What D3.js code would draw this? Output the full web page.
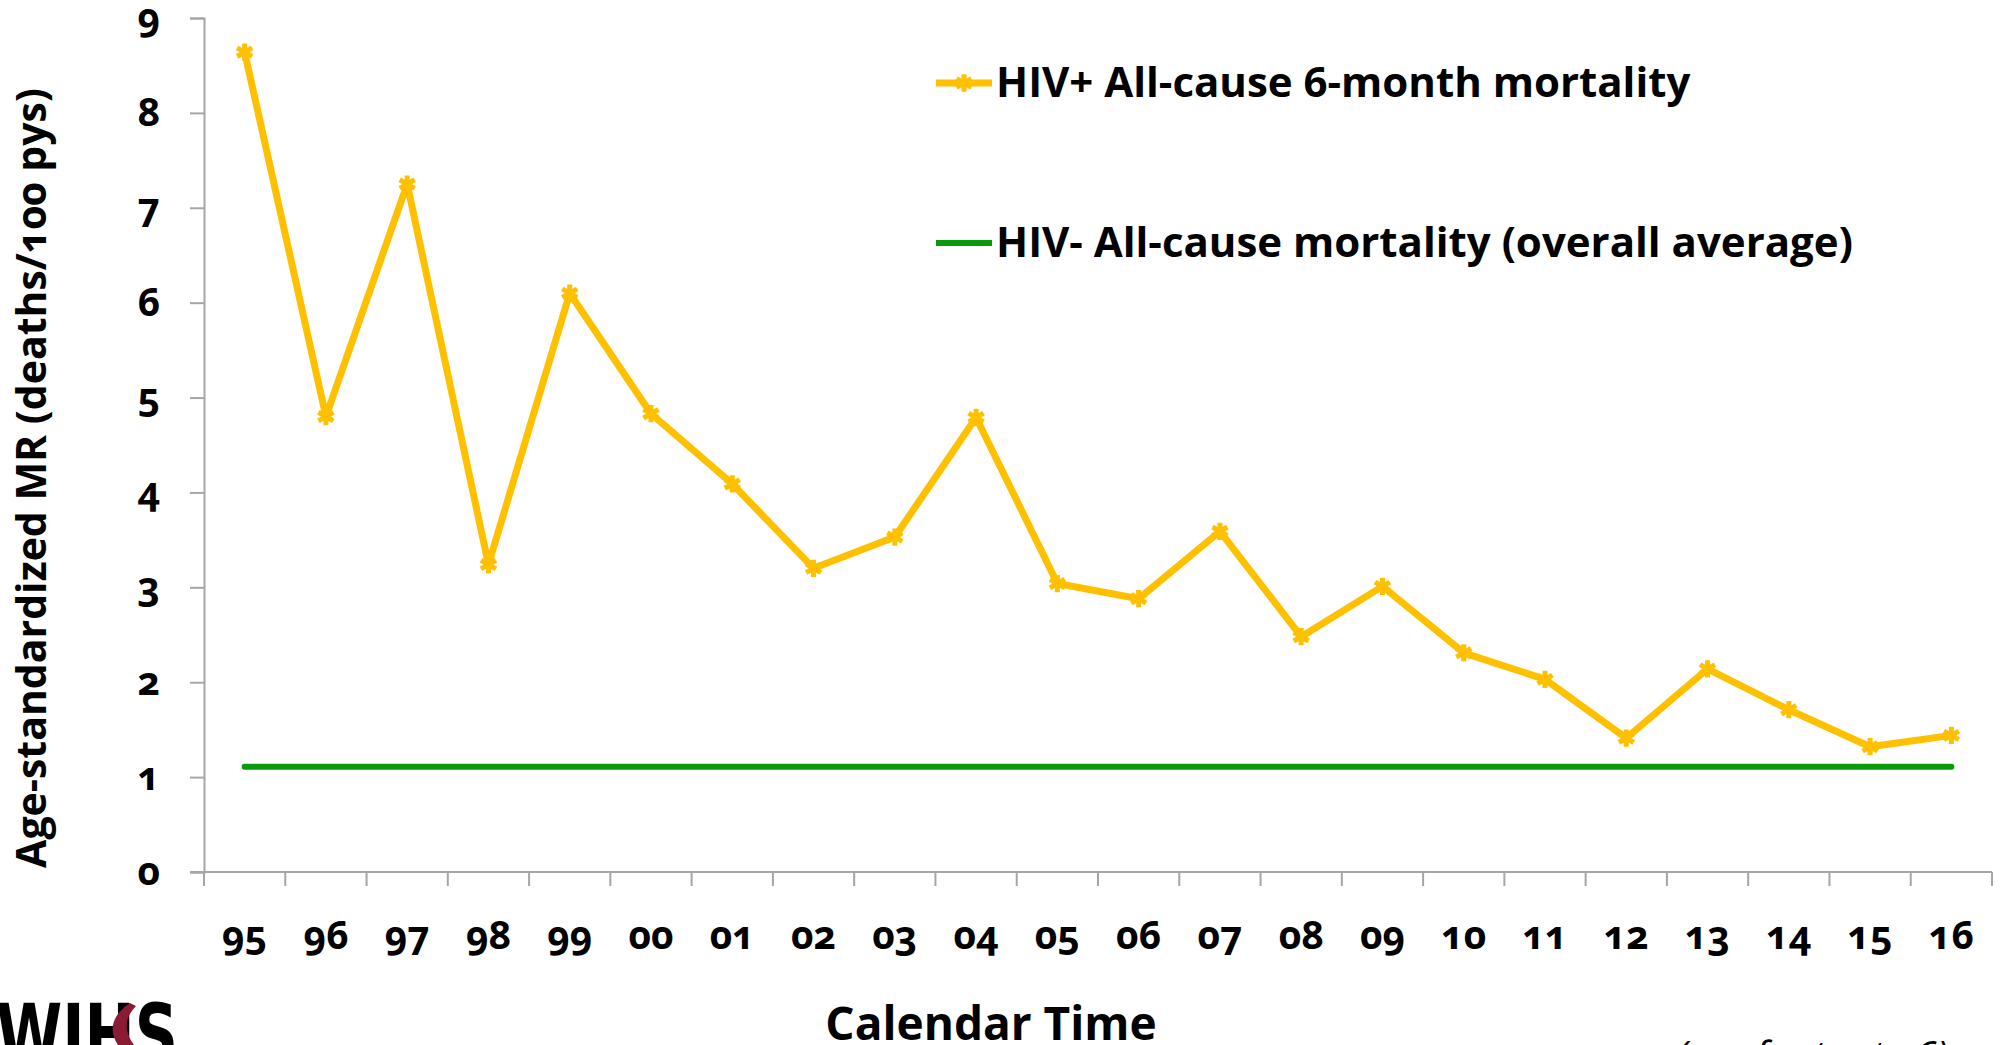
<!DOCTYPE html>
<html>
<head>
<meta charset="utf-8">
<script src="https://cdn.jsdelivr.net/npm/d3@7"></script>
<style>
  body { margin: 0; background: #fff; overflow: hidden; }
  text { font-family: "Open Sans", sans-serif; font-variant-numeric: oldstyle-nums; }
</style>
</head>
<body>
<script>
// chart data
const years = ['95', '96', '97', '98', '99', '00', '01', '02', '03', '04', '05',
    '06', '07', '08', '09', '10', '11', '12', '13', '14', '15', '16']
const hivPos = [8.64, 4.80, 7.25, 3.24, 6.10, 4.83, 4.09, 3.20, 3.53, 4.79, 3.04,
    2.88, 3.59, 2.48, 3.01, 2.31, 2.03, 1.41, 2.14, 1.71, 1.32, 1.44]
const hivNegAvg = 1.11
const yTicks = [0, 1, 2, 3, 4, 5, 6, 7, 8, 9]
const legendLabels = ['HIV+ All-cause 6-month mortality', 'HIV- All-cause mortality (overall average)']

const dimensions = {
    width: 2002,
    height: 1045
}
const plot = { left: 204, right: 1992, top: 18, bottom: 872 }

const svg = d3.select('body').append('svg')
    .attr('width', dimensions.width)
    .attr('height', dimensions.height)

const x = d3.scaleBand()
    .domain(years)
    .range([plot.left, plot.right])

const y = d3.scaleLinear()
    .domain([0, 9])
    .range([plot.bottom, plot.top])

const cx = d => x(d) + x.bandwidth() / 2

// y axis
const yAxis = svg.append('g')
    .attr('transform', `translate(${plot.left},0)`)
    .call(d3.axisLeft(y).tickValues(yTicks).tickFormat(d3.format('d')).tickSize(14).tickPadding(30))
yAxis.select('.domain').attr('stroke', '#a6a6a6').attr('stroke-width', 2)
yAxis.selectAll('.tick line').attr('stroke', '#a6a6a6').attr('stroke-width', 2)
yAxis.selectAll('.tick text')
    .attr('font-size', 39)
    .attr('font-weight', 700)
    .attr('fill', '#000')
    .style('font-family', '"Open Sans", sans-serif')

// x axis line, ticks between categories
const xAxis = svg.append('g')
xAxis.append('line')
    .attr('x1', plot.left - 14).attr('x2', plot.right)
    .attr('y1', plot.bottom).attr('y2', plot.bottom)
    .attr('stroke', '#a6a6a6').attr('stroke-width', 2)
xAxis.selectAll('.xtick')
    .data(years.map(d => x(d)).concat([x.range()[1]]))
    .enter()
    .append('line')
    .attr('x1', d => d).attr('x2', d => d)
    .attr('y1', plot.bottom).attr('y2', plot.bottom + 14)
    .attr('stroke', '#a6a6a6').attr('stroke-width', 2)
xAxis.selectAll('.xlabel')
    .data(years)
    .enter()
    .append('text')
    .attr('x', d => cx(d))
    .attr('y', 949)
    .attr('text-anchor', 'middle')
    .attr('font-size', 39)
    .attr('font-weight', 700)
    .text(d => d)

// axis titles
svg.append('text')
    .attr('transform', 'translate(46,478) rotate(-90)')
    .attr('text-anchor', 'middle')
    .attr('font-size', 41)
    .attr('font-weight', 700)
    .text('Age-standardized MR (deaths/100 pys)')

svg.append('text')
    .attr('x', 991)
    .attr('y', 1040)
    .attr('text-anchor', 'middle')
    .attr('font-size', 46)
    .attr('font-weight', 700)
    .style('font-variant-numeric', 'normal')
    .text('Calendar Time')

// HIV- average line
svg.append('line')
    .attr('x1', cx(years[0]))
    .attr('x2', cx(years[years.length - 1]))
    .attr('y1', y(hivNegAvg))
    .attr('y2', y(hivNegAvg))
    .attr('stroke', '#099a09')
    .attr('stroke-width', 6)
    .attr('stroke-linecap', 'round')

// HIV+ line
const line = d3.line()
    .x((d, i) => cx(years[i]))
    .y(d => y(d))

svg.append('path')
    .datum(hivPos)
    .attr('d', line)
    .attr('fill', 'none')
    .attr('stroke', '#ffc000')
    .attr('stroke-width', 7)
    .attr('stroke-linejoin', 'round')

const star = d3.symbol().type(d3.symbolAsterisk).size(210)
svg.selectAll('.marker')
    .data(hivPos)
    .enter()
    .append('path')
    .attr('d', star)
    .attr('transform', (d, i) => `translate(${cx(years[i])},${y(d)})`)
    .attr('fill', 'none')
    .attr('stroke', '#ffc000')
    .attr('stroke-width', 5)

// legend
const legend = svg.append('g')
legend.append('line')
    .attr('x1', 936).attr('x2', 992).attr('y1', 83).attr('y2', 83)
    .attr('stroke', '#ffc000').attr('stroke-width', 7)
legend.append('path')
    .attr('d', star)
    .attr('transform', 'translate(964,83)')
    .attr('fill', 'none').attr('stroke', '#ffc000').attr('stroke-width', 5)
legend.append('line')
    .attr('x1', 936).attr('x2', 992).attr('y1', 243).attr('y2', 243)
    .attr('stroke', '#099a09').attr('stroke-width', 6)
legend.selectAll('.ltext')
    .data(legendLabels)
    .enter()
    .append('text')
    .attr('x', 996)
    .attr('y', (d, i) => i === 0 ? 97 : 257)
    .attr('font-size', 42)
    .attr('font-weight', 700)
    .style('font-variant-numeric', 'normal')
    .text(d => d)

// logo, cut by the bottom edge
const logo = svg.append('g')
logo.append('text')
    .attr('x', -4)
    .attr('y', 1064)
    .attr('font-size', 84)
    .attr('font-weight', 900)
    .attr('textLength', 182)
    .attr('lengthAdjust', 'spacingAndGlyphs')
    .style('font-family', '"DejaVu Sans", sans-serif')
    .text('WIHS')
logo.append('path')
    .attr('d', 'M130,1003 C112,1015 108,1030 118,1045 L134,1045 C124,1032 124,1018 136,1006 Z')
    .attr('fill', '#8b1a33')

// footnote, also cut by the bottom edge
svg.append('text')
    .attr('x', 1676)
    .attr('y', 1070)
    .attr('font-size', 40)
    .attr('font-style', 'italic')
    .style('font-variant-numeric', 'normal')
    .text('(see footnote 6)')
</script>
</body>
</html>
